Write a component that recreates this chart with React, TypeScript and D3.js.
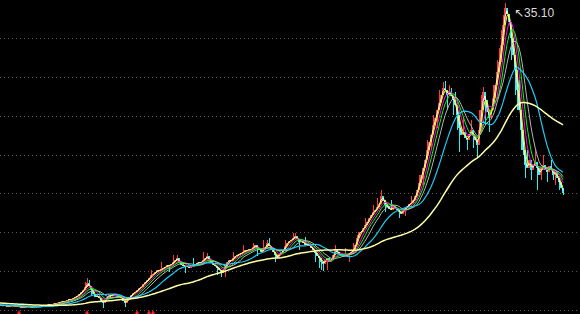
import React from "react";
import * as d3 from "d3";

// Closes before the visible window (feed the moving averages only)
const preCloses = [
  4.74, 4.53, 4.63, 4.43, 4.53, 4.32, 4.43, 4.53, 4.63, 4.43,
  4.32, 4.22, 4.43, 4.53, 4.32, 4.22, 4.32, 4.12, 4.22, 4.32,
  4.43, 4.22, 4.12, 4.32, 4.22, 4.12, 4.22, 4.01, 4.12, 4.22,
  4.32, 4.12, 4.01, 4.12, 4.22, 4.01, 4.12, 3.91, 4.01, 4.12,
  4.22, 4.01, 3.91, 4.01, 4.12, 3.91, 4.01, 3.91, 4.01, 3.91,
];

// Visible daily closes
const closes = [
  4.01, 3.91, 4.01, 3.81, 3.91, 4.01, 3.91, 3.81, 3.91, 3.81,
  3.81, 3.71, 3.81, 3.91, 3.81, 3.71, 3.81, 3.91, 3.81, 3.91,
  3.91, 4.01, 3.91, 4.01, 4.12, 4.01, 4.12, 4.22, 4.12, 4.32,
  4.32, 4.43, 4.32, 4.53, 4.63, 4.53, 4.74, 4.84, 4.94, 5.15,
  5.35, 5.56, 5.87, 6.28, 5.97, 5.56, 5.15, 4.84, 4.94, 4.74,
  4.43, 4.22, 4.53, 4.84, 5.04, 4.94, 5.15, 5.04, 4.84, 4.94,
  4.74, 4.43, 4.22, 4.53, 4.84, 5.04, 5.25, 5.35, 5.56, 5.76,
  5.87, 6.18, 6.38, 6.59, 6.79, 7.10, 7.21, 7.41, 7.62, 7.51,
  7.72, 7.82, 7.93, 8.13, 8.03, 8.24, 8.44, 8.65, 8.85, 8.44,
  8.13, 8.03, 7.93, 8.03, 7.82, 8.13, 8.03, 8.24, 8.34, 8.44,
  8.34, 8.65, 8.85, 9.06, 8.65, 8.34, 8.13, 8.03, 7.82, 7.62,
  7.31, 7.62, 8.03, 8.44, 8.65, 8.54, 8.85, 9.06, 9.16, 9.26,
  9.37, 9.47, 9.68, 9.57, 9.78, 9.68, 9.99, 10.19, 9.88, 9.68,
  9.47, 9.68, 9.99, 10.40, 10.09, 9.78, 9.47, 9.16, 8.85, 9.26,
  9.47, 9.68, 10.09, 10.40, 10.60, 10.71, 10.91, 11.12, 10.81, 10.50,
  10.60, 10.40, 10.19, 10.29, 10.09, 9.88, 9.68, 9.37, 9.06, 8.85,
  8.44, 8.24, 8.65, 8.85, 8.44, 8.65, 9.16, 9.68, 9.47, 9.26,
  9.16, 8.95, 9.26, 9.06, 9.37, 9.47, 9.68, 10.19, 10.91, 11.53,
  11.53, 11.94, 12.25, 12.56, 12.97, 13.28, 13.59, 13.79, 14.10, 14.41,
  15.24, 14.82, 14.31, 14.10, 13.90, 13.79, 14.21, 14.00, 13.79, 13.59,
  13.38, 13.79, 14.00, 14.21, 14.41, 14.51, 14.82, 15.24, 15.85, 16.57,
  17.40, 18.12, 18.94, 19.97, 20.79, 21.51, 22.54, 23.26, 24.09, 24.81,
  25.63, 26.35, 26.15, 25.63, 25.94, 25.53, 25.12, 24.60, 23.57, 22.23,
  21.51, 21.82, 21.21, 21.00, 21.62, 22.03, 21.41, 21.00, 20.49, 22.03,
  24.09, 25.94, 25.12, 23.88, 23.26, 24.09, 25.32, 26.66, 28.00, 29.03,
  30.78, 32.84, 34.59, 33.97, 33.15, 31.50, 29.75, 28.21, 26.15, 24.09,
  22.03, 19.97, 18.43, 18.12, 18.94, 17.91, 18.43, 18.73, 18.12, 17.40,
  18.12, 18.43, 17.91, 17.71, 18.32, 17.91, 17.40, 17.71, 17.09, 16.68,
  16.06, 15.54,
];

// Upper / lower shadows: [bar index, price]
const highSpikes: [number, number][] = [
  [42, 6.38], [43, 6.79], [44, 6.59], [75, 7.62], [80, 8.44], [86, 9.16],
  [88, 9.16], [96, 8.85], [101, 9.47], [103, 9.37], [116, 9.47], [121, 10.19],
  [126, 10.40], [131, 10.71], [133, 10.71], [134, 10.91], [142, 10.71],
  [146, 11.43], [147, 11.43], [152, 11.01], [167, 10.19], [172, 9.88],
  [176, 10.40], [178, 11.22], [182, 12.97], [186, 14.31], [188, 15.03],
  [190, 15.85], [195, 14.82], [205, 15.24], [209, 17.40], [213, 21.0],
  [216, 23.57], [219, 26.15], [221, 26.97], [222, 27.06], [224, 26.66],
  [225, 26.35], [227, 25.94], [231, 23.26], [235, 23.06], [239, 24.09],
  [240, 25.63], [241, 26.45], [246, 26.66], [248, 29.24], [249, 30.47],
  [250, 32.32], [251, 33.87], [252, 35.1], [254, 33.87], [259, 27.18],
  [263, 19.97], [267, 19.97], [271, 19.46], [275, 18.94],
];
const lowSpikes: [number, number][] = [
  [45, 4.94], [51, 3.71], [62, 3.81], [84, 7.41], [92, 7.31], [108, 7.10],
  [110, 6.9], [112, 6.90], [128, 9.06], [137, 8.44], [149, 9.68], [157, 8.44],
  [159, 7.82], [160, 7.62], [161, 7.51], [163, 7.62], [174, 8.44], [192, 13.59],
  [199, 12.97], [202, 13.18], [211, 16.37], [215, 19.97], [218, 22.23],
  [223, 24.09], [226, 23.57], [228, 22.03], [229, 19.76], [233, 19.97],
  [236, 20.18], [238, 19.15], [242, 22.54], [244, 21.82], [255, 29.24],
  [257, 25.63], [258, 24.09], [260, 19.97], [261, 19.5], [262, 17.09],
  [265, 16.88], [268, 15.85], [270, 16.88], [273, 16.68], [276, 16.9],
  [277, 16.37], [279, 15.85], [281, 15.3],
];

const signalBars = [9, 43, 68, 74, 76];
const gridPrices = [3.5, 7.5, 11.5, 15.5, 19.5, 23.5, 27.5, 31.5];
const maPeriods = [2, 3, 5, 7, 10, 18, 50];
const maColors = ["#ffffff", "#ffff00", "#ff00ff", "#00ff00", "#b4b4b4", "#1ecbf5", "#ffffa8"];
const maWidths = [1, 1, 1, 1, 1, 1.2, 1.5];

export default function App() {
  const W = 580;
  const H = 314;
  const N = closes.length;
  const P = preCloses.length;
  const full = [...preCloses, ...closes];

  const x = d3.scaleLinear().domain([0, N - 1]).range([1, 1 + 2 * (N - 1)]);
  const y = d3.scaleLinear().domain([3.5, 31.5]).range([310, 38]);

  const hiMap = new Map(highSpikes);
  const loMap = new Map(lowSpikes);

  const bars = closes.map((c, i) => {
    const o = full[P + i - 1];
    const hi = Math.max(o, c, hiMap.has(i) ? (hiMap.get(i) as number) : -Infinity);
    const lo = Math.min(o, c, loMap.has(i) ? (loMap.get(i) as number) : Infinity);
    return { i, o, c, hi, lo, up: c >= o };
  });

  const mas = maPeriods.map((n) => {
    const pts: [number, number][] = [];
    for (let j = n - 1; j < full.length; j++) {
      const m = d3.mean(full.slice(j - n + 1, j + 1)) as number;
      pts.push([j - P, m]);
    }
    return pts;
  });

  const line = d3
    .line<[number, number]>()
    .x((d) => x(d[0]))
    .y((d) => y(d[1]));

  let peak = bars[0];
  bars.forEach((b) => {
    if (b.hi > peak.hi) peak = b;
  });

  return (
    <div style={{ position: "fixed", left: 0, top: 0 }}>
      <svg width={W} height={H} style={{ display: "block", background: "#000" }}>
        <rect x={0} y={0} width={W} height={H} fill="#000" />
        {gridPrices.map((g) => (
          <line
            key={g}
            x1={0}
            x2={W}
            y1={Math.round(y(g)) + 0.5}
            y2={Math.round(y(g)) + 0.5}
            stroke="#5a5a5a"
            strokeWidth={1}
            strokeDasharray="1,3"
          />
        ))}
        <g shapeRendering="crispEdges">
          {bars.map((b) => {
            const col = b.up ? "#ff3c3c" : "#2ef0f0";
            const top = y(Math.max(b.o, b.c));
            const bot = y(Math.min(b.o, b.c));
            return (
              <g key={b.i}>
                <line x1={x(b.i)} x2={x(b.i)} y1={y(b.hi)} y2={y(b.lo)} stroke={col} strokeWidth={1} />
                <rect x={x(b.i) - 0.8} y={top} width={1.6} height={Math.max(1, bot - top)} fill={col} />
              </g>
            );
          })}
        </g>
        {mas.map((pts, k) => (
          <path key={k} d={line(pts) || ""} fill="none" stroke={maColors[k]} strokeWidth={maWidths[k]} />
        ))}
        {signalBars.map((i) => (
          <path
            key={i}
            d={`M${x(i) - 2},314 L${x(i) + 2},314 L${x(i)},310 Z`}
            fill="#ff2020"
          />
        ))}
        <text
          x={x(peak.i) + 9}
          y={y(peak.hi) + 14}
          fill="#dcdcdc"
          fontSize={12}
          fontFamily="'Liberation Sans', Arial, 'DejaVu Sans', sans-serif"
        >
          {"↖" + peak.hi.toFixed(2)}
        </text>
      </svg>
    </div>
  );
}
